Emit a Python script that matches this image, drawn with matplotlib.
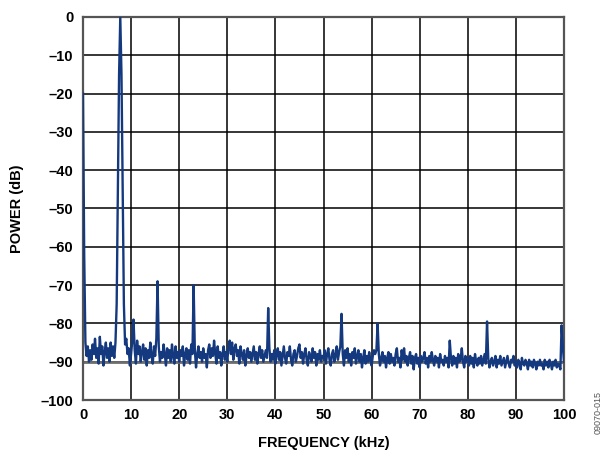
import matplotlib
matplotlib.use("Agg")
import matplotlib.pyplot as plt
import numpy as np

plt.rcParams['font.family'] = ['Liberation Sans', 'DejaVu Sans']
plt.rcParams['font.weight'] = 'bold'

# FFT bin spacing (kHz) and power per bin (dB)
freq_step = 0.25
power_db = [
    # 0 - 4.75 kHz
    -20, -62, -85, -88.5, -86, -90, -87, -89.5, -85.5, -88, -84, -89, -86.5, -90.5, -83.5, -88, -86, -91, -87.5, -85,
    # 5 - 9.75 kHz (fundamental)
    -89, -86.5, -90, -85, -88.5, -86, -89, -85, -75, -45, -15, 0, -15, -45, -75, -85.5, -84, -88, -86.5, -91,
    # 10 - 14.75 kHz
    -88, -84.5, -79, -87, -90.5, -84.5, -88, -86, -90, -87.5, -85.5, -89.5, -86.5, -91, -87, -89, -85, -88.5, -90.5, -86,
    # 15 - 19.75 kHz
    -88.5, -84, -69, -86, -90, -87.5, -89, -85.5, -88, -91, -86.5, -89, -87, -90, -85.5, -88.5, -90.5, -86, -89, -87.5,
    # 20 - 24.75 kHz
    -90, -87, -88.5, -86, -91, -88, -86.5, -89.5, -87, -90.5, -85.5, -88, -70, -87, -91.5, -88, -86, -89, -87.5, -90,
    # 25 - 29.75 kHz
    -86.5, -89, -88, -91.5, -87, -85.5, -89, -86.5, -88.5, -84.5, -88, -90.5, -86, -89, -87.5, -91, -88, -86, -89.5, -87.5,
    # 30 - 34.75 kHz
    -90, -86, -84.5, -88, -85, -89.5, -86.5, -85.5, -88.5, -87, -90.5, -86, -88, -89.5, -87, -91, -88.5, -86.5, -89, -87.5,
    # 35 - 39.75 kHz
    -90, -88, -86, -89.5, -87.5, -90.5, -88, -86, -89, -87, -90, -88.5, -87, -89, -76, -86.5, -90, -88, -89.5, -87,
    # 40 - 44.75 kHz
    -90.5, -88, -86.5, -89.5, -87.5, -91, -88.5, -86, -89, -90.5, -87.5, -88.5, -86, -89.5, -91, -88, -87, -90, -88.5, -86.5,
    # 45 - 49.75 kHz
    -85.5, -89, -87.5, -90.5, -88, -86.5, -89.5, -91, -87.5, -88.5, -90, -86.5, -89, -87.5, -91, -88, -89.5, -87, -90, -88.5,
    # 50 - 54.75 kHz
    -89, -87, -90.5, -88, -86.5, -89.5, -91, -88, -87, -90, -88.5, -86, -89.5, -87.5, -86, -77.5, -88, -91, -87, -89,
    # 55 - 59.75 kHz
    -86.5, -90, -88, -91, -87.5, -89, -86.5, -90.5, -88.5, -87, -90, -88, -91.5, -89, -87, -90.5, -88.5, -90, -87.5, -89.5,
    # 60 - 64.75 kHz
    -91, -88.5, -87, -88, -87, -80, -88, -91, -89, -87.5, -90, -88.5, -91.5, -89, -87.5, -90.5, -88, -90, -89, -91,
    # 65 - 69.75 kHz
    -88, -86.5, -90, -89, -91.5, -87, -89.5, -86.5, -90, -88.5, -91, -89, -87.5, -90.5, -88.5, -92, -89, -88, -90.5, -89,
    # 70 - 74.75 kHz
    -91.5, -88.5, -90, -89, -87.5, -90.5, -89, -91.5, -88.5, -90, -87.5, -89.5, -91, -88.5, -90, -89, -91.5, -88, -90, -89.5,
    # 75 - 79.75 kHz
    -91, -88.5, -90, -89, -91.5, -84.5, -89, -91, -88.5, -90.5, -89, -91.5, -88, -90, -89.5, -86.5, -90, -91.5, -88.5, -90,
    # 80 - 84.75 kHz
    -89, -91, -88.5, -90.5, -89, -91.5, -88, -90, -91, -89, -90.5, -88.5, -91, -89.5, -88, -90.5, -79.5, -89, -91.5, -90,
    # 85 - 89.75 kHz
    -89, -91, -90, -88.5, -91.5, -89.5, -90.5, -88.5, -91, -90, -89, -91.5, -90, -88.5, -90.5, -91.5, -89.5, -90, -88.5, -91,
    # 90 - 94.75 kHz
    -90, -91.5, -89.5, -90.5, -92, -89, -90.5, -91, -89.5, -90.5, -92, -89.5, -91, -90, -91.5, -89.5, -90.5, -92, -90, -91,
    # 95 - 100 kHz
    -89.5, -91, -90.5, -92, -89.5, -91, -90, -91.5, -89.5, -90.5, -92, -90, -91, -89.5, -91.5, -90.5, -91, -92, -80.5, -86,
    -90,
]

x_ticks = [0, 10, 20, 30, 40, 50, 60, 70, 80, 90, 100]
y_ticks = [0, -10, -20, -30, -40, -50, -60, -70, -80, -90, -100]
y_tick_labels = ['0', '–10', '–20', '–30', '–40', '–50', '–60', '–70', '–80', '–90', '–100']

freq = np.arange(len(power_db)) * freq_step

fig = plt.figure(figsize=(6.03, 4.5), dpi=100)
ax = fig.add_axes([83 / 603, 1 - 400 / 450, 481 / 603, 383 / 450])

ax.plot(freq, power_db, color='#15397f', linewidth=1.7, zorder=3)
ax.axhline(-90, color='#6e6e6e', linewidth=2.0, zorder=2)

ax.set_xlim(0, 100)
ax.set_ylim(-100, 0)
ax.set_xticks(x_ticks)
ax.set_yticks(y_ticks)
ax.set_yticklabels(y_tick_labels)
ax.tick_params(length=0, labelsize=10.5, pad=7)
ax.tick_params(axis='x', pad=6)
ax.grid(True, color='black', linewidth=1.1, zorder=1)
ax.set_axisbelow(True)
for s in ax.spines.values():
    s.set_color('#555555')
    s.set_linewidth(1.6)

ax.set_xlabel('FREQUENCY (kHz)', fontsize=10.5, fontweight='bold', labelpad=10)
ax.set_ylabel('POWER (dB)', fontsize=10.5, fontweight='bold', labelpad=12)

fig.text(598 / 603, 1 - 412 / 450, '09070-015', rotation=90, fontsize=6.5,
         fontweight='normal', ha='center', va='center', color='#555555')

fig.savefig('out.png', dpi=100)
